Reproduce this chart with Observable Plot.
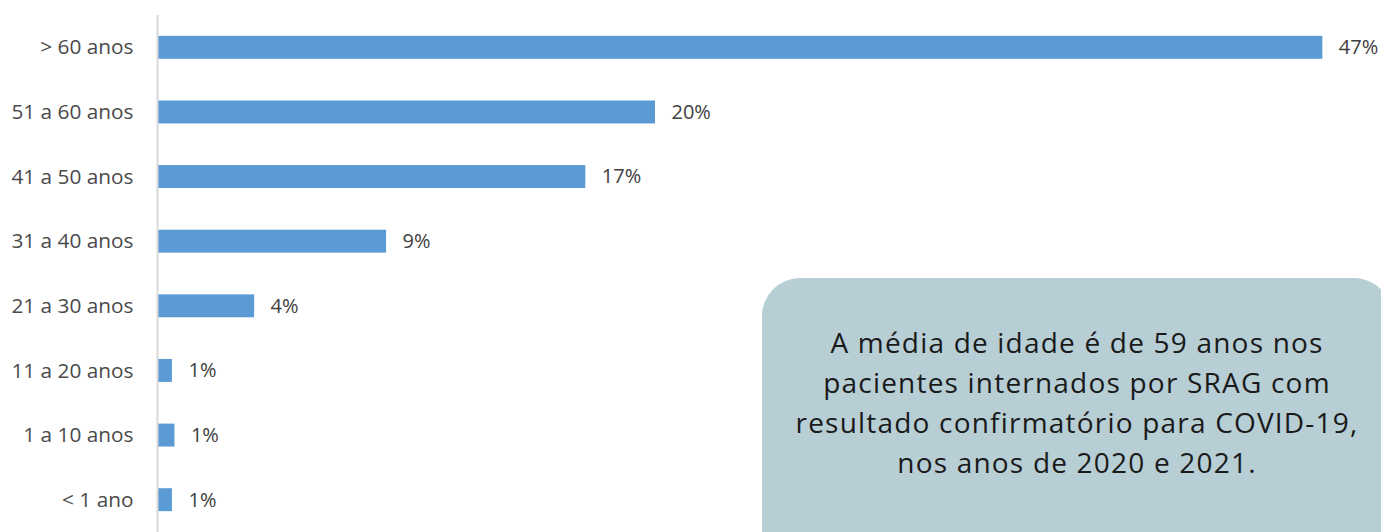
<!DOCTYPE html>
<html><head><meta charset="utf-8">
<script src="https://cdn.jsdelivr.net/npm/d3@7"></script>
<script src="https://cdn.jsdelivr.net/npm/@observablehq/plot@0.6"></script>
<style>
body{margin:0;background:#fff;}
#wrap{position:relative;width:1381px;height:532px;overflow:hidden;}
#note{position:absolute;left:762px;top:278px;width:630px;height:300px;background:#b7ced5;border-radius:38px;font-family:"Open Sans";font-size:28px;letter-spacing:1.2px;line-height:40px;color:#1a1a1a;text-align:center;box-sizing:border-box;padding-top:44px;white-space:nowrap;}
</style></head><body><div id="wrap"></div>
<script>
const categories = ["> 60 anos","51 a 60 anos","41 a 50 anos","31 a 40 anos","21 a 30 anos","11 a 20 anos","1 a 10 anos","< 1 ano"];
const values = [46.8, 20.0, 17.2, 9.2, 3.9, 0.6, 0.7, 0.6];
const noteLines = ["A média de idade é de 59 anos nos","pacientes internados por SRAG com","resultado confirmatório para COVID-19,","nos anos de 2020 e 2021."];

const data = categories.map((c,i)=>({faixa:c, pct:values[i]}));
const chart = Plot.plot({
  width:1381, height:532, marginLeft:157, marginTop:15, marginBottom:0, marginRight:0,
  x:{domain:[0,50], range:[157, 157+50*24.9], axis:null},
  y:{domain:categories, paddingInner:0.645, paddingOuter:0.3225, round:false, label:null, tickSize:0, tickPadding:24},
  style:{fontFamily:"Open Sans", fontSize:"20.8px", color:"#4a4a4a", background:"transparent"},
  marks:[
    Plot.barX(data,{x:"pct", y:"faixa", fill:"#5b9bd5"}),
    Plot.ruleX([0],{stroke:"#d9d9d9", strokeWidth:2}),
    Plot.text(data,{x:"pct", y:"faixa", text:d=>Math.round(d.pct)+"%", textAnchor:"start", dx:16, fill:"#404040", fontSize:20})
  ]
});
const wrap = document.getElementById("wrap");
wrap.appendChild(chart);
const note = document.createElement("div");
note.id = "note";
noteLines.forEach((l,i)=>{ if(i) note.appendChild(document.createElement("br")); note.appendChild(document.createTextNode(l)); });
wrap.appendChild(note);
</script>
</body></html>
